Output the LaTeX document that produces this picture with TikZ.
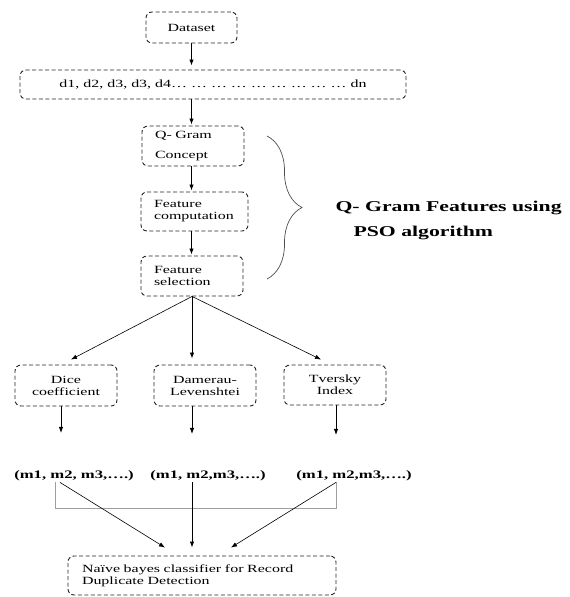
\documentclass[tikz,border=0pt]{standalone}
\usepackage{fontspec}
\setmainfont{Liberation Serif}[FakeStretch=1.45]
\usepackage{tikz}
\usetikzlibrary{arrows.meta,positioning,decorations.pathreplacing}

\begin{document}
\begin{tikzpicture}[x=1pt,y=1pt,on grid,>={Latex[length=6pt,width=4.5pt]}]
	\tikzstyle{box}=[draw=black!85,line width=0.9pt,dash pattern=on 4pt off 2.5pt,rounded corners=6pt,inner sep=0pt,font=\fontsize{11}{12}\selectfont,align=center]
	\tikzstyle{lbox}=[box,align=left,inner xsep=13pt]
	\tikzstyle{flow}=[->,line width=0.9pt]
	\tikzstyle{thin}=[->,line width=0.6pt]
	\tikzstyle{mlbl}=[font=\fontsize{11.5}{13}\selectfont\bfseries,inner sep=1pt]
	\tikzstyle{biglbl}=[anchor=west,font=\fontsize{15}{18}\selectfont\bfseries]

	\useasboundingbox (0,0) rectangle (570,597);

	\node[box,minimum width=91pt,minimum height=31pt] (data) at (191.5,569.5) {Dataset};
	\node[box,minimum width=386pt,minimum height=29pt] (dlist) [below right=57pt and 21.5pt of data] {d1, d2, d3, d3, d4… … … … … … … … … dn};
	\node[lbox,text width=76pt,minimum height=40pt] (qgram) [below left=61.5pt and 20pt of dlist] {Q- Gram\\[8pt]Concept};
	\node[lbox,text width=81pt,minimum height=39pt] (fcomp) [below right=65.5pt and 1.5pt of qgram] {Feature\\computation};
	\node[lbox,text width=76pt,minimum height=40pt] (fsel) [below left=64.5pt and 2.5pt of fcomp] {Feature\\selection};

	\node[box,minimum width=102pt,minimum height=41pt] (dice) [below left=109.5pt and 126pt of fsel] {Dice\\coefficient};
	\node[box,minimum width=102pt,minimum height=41pt] (dam)  [below right=109.5pt and 13pt of fsel] {Damerau-\\Levenshtei};
	\node[box,minimum width=102pt,minimum height=40pt] (tver) [below right=109pt and 143pt of fsel] {Tversky\\Index};

	\node[mlbl] (m1) [below right=90.5pt and 8pt of dice] {(m1, m2, m3,….)};
	\node[mlbl] (m2) [below right=90.5pt and 3pt of dam]  {(m1, m2,m3,….)};
	\node[mlbl] (m3) [below right=91pt and 19pt of tver]  {(m1, m2,m3,….)};

	\node[lbox,text width=240pt,inner xsep=14pt,minimum height=39pt] (naive) [below left=99.5pt and 6pt of m2] {Naïve bayes classifier for Record\\Duplicate Detection};

	% brace and its label
	\coordinate (btop) at (267,461);
	\coordinate (bbot) at (267,318);
	\draw[decorate,decoration={brace,amplitude=35pt},black!70,line width=0.7pt] (btop) -- (bbot);
	\node[biglbl] (lblA) at (332,389) {Q- Gram Features using};
	\node[biglbl] (lblB) at (350,364) {PSO algorithm};

	% main chain
	\draw[flow] (data) -- ([yshift=4pt]data |- dlist.north);
	\draw[flow] (dlist.south -| data) -- ([yshift=1pt]qgram.north -| data);
	\draw[flow] (qgram.south -| data) -- ([yshift=1pt]fcomp.north -| data);
	\draw[flow] (fcomp.south -| data) -- ([yshift=1pt]fsel.north -| data);

	\draw[thin] (fsel.south) -- ([xshift=5pt,yshift=5pt]dice.north);
	\draw[flow] (fsel.south) -- ([yshift=6pt]fsel.south |- dam.north);
	\draw[thin] (fsel.south) -- ([xshift=-14pt,yshift=5pt]tver.north);

	\coordinate (out1) at (61,164);
	\coordinate (out2) at (192,163);
	\coordinate (out3) at (336,162);
	\draw[flow] (dice.south -| out1) -- (out1);
	\draw[flow] (dam.south -| out2) -- (out2);
	\draw[flow] (tver.south -| out3) -- (out3);

	% results into the classifier
	\draw[gray!75,line width=0.8pt] ([xshift=-19pt]m1.south) -- ++(0,-26) -| ([xshift=-18pt]m3.south);
	\draw[thin] ([xshift=-14pt]m1.south) -- ([xshift=-37pt,yshift=8pt]naive.north);
	\draw[flow] ([xshift=-16pt]m2.south) -- ([xshift=-10pt,yshift=8pt]naive.north);
	\draw[thin] ([xshift=-18pt]m3.south) -- ([xshift=29pt,yshift=8pt]naive.north);
\end{tikzpicture}
\end{document}
